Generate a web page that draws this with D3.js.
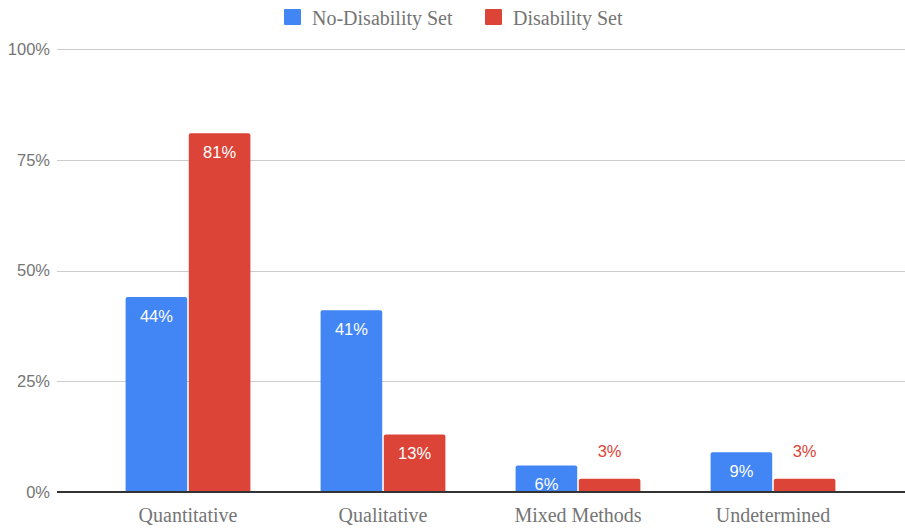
<!DOCTYPE html>
<meta charset="utf-8">
<script src="https://d3js.org/d3.v7.min.js"></script>
<style>
  body { margin: 0; background: #fff; }
  .grid line { stroke: #cccccc; stroke-width: 1; shape-rendering: crispEdges; }
  .grid path { display: none; }
</style>
<div id="vis"></div>
<script>
  // Data
  var categories = ["Quantitative", "Qualitative", "Mixed Methods", "Undetermined"]
  var seriesNames = ["No-Disability Set", "Disability Set"]
  var noDisability = [44, 41, 6, 9]
  var disability = [81, 13, 3, 3]
  var yTicks = [0, 25, 50, 75, 100]

  var colors = ["#4285F4", "#DB4437"]
  var width = 905, height = 528
  var plotLeft = 57, plotRight = 905, plotTop = 49, plotBottom = 492

  var svg = d3.select("#vis").append("svg")
    .attr("width", width).attr("height", height)

  var y = d3.scaleLinear().domain([0, 100]).range([plotBottom, plotTop])
  var x = d3.scaleBand().domain(categories).range([90.5, 870.5])
    .paddingInner(0.36).paddingOuter(0.18)
  var xs = d3.scaleBand().domain([0, 1]).range([0, x.bandwidth()]).paddingInner(0.025)

  // grid lines
  svg.append("g")
    .attr("class", "grid")
    .attr("transform", "translate(" + plotLeft + ",0)")
    .call(d3.axisRight(y).tickValues(yTicks.filter(function(d) { return d > 0 })).tickSize(plotRight - plotLeft).tickFormat(""))

  // y tick labels
  svg.append("g").selectAll("text")
    .data(yTicks).enter().append("text")
    .attr("x", 50)
    .attr("y", function(d) { return y(d) })
    .attr("dy", "0.35em")
    .attr("text-anchor", "end")
    .style("font-family", "Liberation Sans, Arial, sans-serif")
    .style("font-size", "16.5px")
    .style("fill", "#757575")
    .text(function(d) { return d + "%" })

  // rows for bars
  var rows = []
  categories.forEach(function(c, i) {
    rows.push({cat: c, s: 0, v: noDisability[i]})
    rows.push({cat: c, s: 1, v: disability[i]})
  })

  function barPath(d) {
    var x0 = x(d.cat) + xs(d.s), w = xs.bandwidth()
    var y0 = y(d.v), y1 = y(0), r = 2
    return "M" + x0 + "," + y1 + "V" + (y0 + r) + "Q" + x0 + "," + y0 + " " + (x0 + r) + "," + y0 +
      "H" + (x0 + w - r) + "Q" + (x0 + w) + "," + y0 + " " + (x0 + w) + "," + (y0 + r) + "V" + y1 + "Z"
  }

  svg.append("g").selectAll("path")
    .data(rows).enter().append("path")
    .attr("d", barPath)
    .attr("fill", function(d) { return colors[d.s] })

  // value labels
  function inside(d) { return y(0) - y(d.v) > 24 }
  svg.append("g").selectAll("text")
    .data(rows).enter().append("text")
    .attr("x", function(d) { return x(d.cat) + xs(d.s) + xs.bandwidth() / 2 })
    .attr("y", function(d) { return inside(d) ? y(d.v) + 19 : y(d.v) - 27 })
    .attr("dy", "0.35em")
    .attr("text-anchor", "middle")
    .style("font-family", "Liberation Sans, Arial, sans-serif")
    .style("font-size", "16.5px")
    .style("fill", function(d) { return inside(d) ? "#ffffff" : colors[d.s] })
    .text(function(d) { return d.v + "%" })

  // baseline
  svg.append("line")
    .attr("x1", plotLeft).attr("x2", plotRight)
    .attr("y1", y(0)).attr("y2", y(0))
    .attr("stroke", "#333333").attr("stroke-width", 2)

  // category labels
  svg.append("g").selectAll("text")
    .data(categories).enter().append("text")
    .attr("x", function(d) { return x(d) + x.bandwidth() / 2 })
    .attr("y", 515)
    .attr("dy", "0.35em")
    .attr("text-anchor", "middle")
    .style("font-family", "Liberation Serif, Times New Roman, serif")
    .style("font-size", "20px")
    .style("fill", "#757575")
    .text(function(d) { return d })

  // legend
  var legendX = [284, 485]
  var legend = svg.append("g").selectAll("g")
    .data(seriesNames).enter().append("g")
    .attr("transform", function(d, i) { return "translate(" + legendX[i] + ",9)" })
  legend.append("rect")
    .attr("width", 17).attr("height", 16).attr("rx", 1)
    .attr("fill", function(d, i) { return colors[i] })
  legend.append("text")
    .attr("x", 28).attr("y", 8.5).attr("dy", "0.35em")
    .style("font-family", "Liberation Serif, Times New Roman, serif")
    .style("font-size", "20px")
    .style("fill", "#757575")
    .text(function(d) { return d })
</script>
